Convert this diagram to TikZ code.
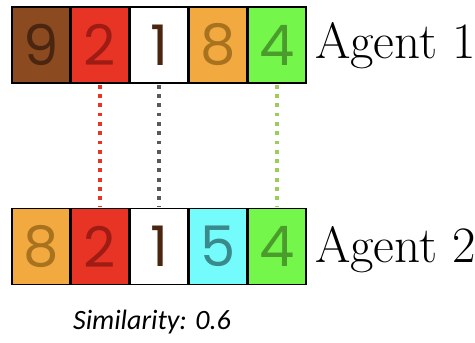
\documentclass[tikz,border=0pt]{standalone}
\usepackage{fontspec}
\usepackage{tikz}
\usetikzlibrary{positioning}
\newfontfamily\digitfont{Poppins}
\newfontfamily\capfont{Carlito}

\definecolor{brownbox}{HTML}{8B4A20}
\definecolor{browntxt}{HTML}{4A2610}
\definecolor{redbox}{HTML}{E83424}
\definecolor{redtxt}{HTML}{9E1C14}
\definecolor{orangebox}{HTML}{F2AA40}
\definecolor{orangetxt}{HTML}{A8721E}
\definecolor{greenbox}{HTML}{74F64A}
\definecolor{greentxt}{HTML}{4A9C2C}
\definecolor{cyanbox}{HTML}{74FCFC}
\definecolor{cyantxt}{HTML}{3A8A8C}
\definecolor{darktxt}{HTML}{4A2610}
\definecolor{grayline}{HTML}{595959}
\definecolor{lightgreen}{HTML}{9ACD5A}

\tikzset{
  gene/.style={draw=black,line width=1.5pt,minimum width=57.6pt,minimum height=76pt,
    inner sep=0pt,font=\digitfont\fontsize{56}{56}\selectfont},
  match/.style={line width=3.8pt,dash pattern=on 3.8pt off 5.5pt},
  agent/.style={anchor=base west,inner sep=0pt,font=\fontsize{51}{51}\selectfont}
}

\begin{document}
\begin{tikzpicture}[x=1pt,y=-1pt]
  \useasboundingbox (0,0) rectangle (475,343);
  % Agent 1
  \node[gene,fill=brownbox,text=browntxt] (a1) at (40.8,45) {9};
  \node[gene,fill=redbox,text=redtxt,right=0pt of a1] (a2) {2};
  \node[gene,fill=white,text=darktxt,right=0pt of a2] (a3) {1};
  \node[gene,fill=orangebox,text=orangetxt,right=0pt of a3] (a4) {8};
  \node[gene,fill=greenbox,text=greentxt,right=0pt of a4] (a5) {4};
  % Agent 2
  \node[gene,fill=orangebox,text=orangetxt] (b1) at (40.8,246.5) {8};
  \node[gene,fill=redbox,text=redtxt,right=0pt of b1] (b2) {2};
  \node[gene,fill=white,text=darktxt,right=0pt of b2] (b3) {1};
  \node[gene,fill=cyanbox,text=cyantxt,right=0pt of b3] (b4) {5};
  \node[gene,fill=greenbox,text=greentxt,right=0pt of b4] (b5) {4};
  % matching genes
  \draw[match,redbox] ([yshift=-1pt]a2.south) -- ([yshift=1pt]b2.north);
  \draw[match,grayline] ([yshift=-1pt]a3.south) -- ([yshift=1pt]b3.north);
  \draw[match,lightgreen] ([yshift=-1pt]a5.south) -- ([yshift=1pt]b5.north);
  % labels
  \node[agent] (l1) at (315,58.3) {Agent 1};
  \node[agent] (l2) at (315,262) {Agent 2};
  \node[font=\capfont\itshape\fontsize{28}{28}\selectfont] (sim) at (152,322) {Similarity: 0.6};
\end{tikzpicture}
\end{document}
